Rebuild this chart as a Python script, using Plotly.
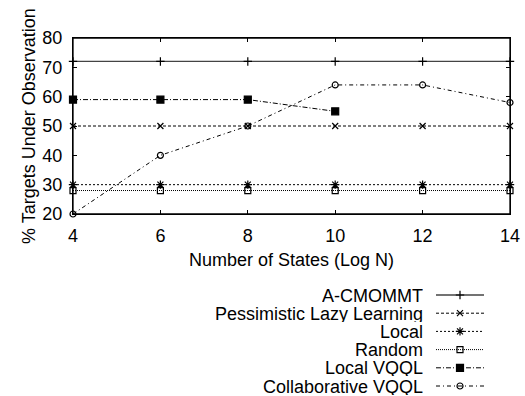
import plotly.graph_objects as go

# Number of states (log N) on the x axis
log_states = [4, 6, 8, 10, 12, 14]

# % of targets under observation for each method
a_cmommt = [72, 72, 72, 72, 72, 72]
pessimistic_lazy = [50, 50, 50, 50, 50, 50]
local = [30, 30, 30, 30, 30, 30]
random_policy = [28, 28, 28, 28, 28, 28]
local_vqql_states = [4, 6, 8, 10]
local_vqql = [59, 59, 59, 55]
collaborative_vqql = [20, 40, 50, 64, 64, 58]

x_ticks = [4, 6, 8, 10, 12, 14]
y_ticks = [20, 30, 40, 50, 60, 70, 80]

FONT = "Liberation Sans, Arial, Helvetica, sans-serif"
FS = 18
W, H = 525, 396
M_L, M_R, M_T = 73, 15, 38
PLOT_BOTTOM = 214  # pixel row of the x axis
plot_w = W - M_L - M_R

series = [
    dict(name="A-CMOMMT", x=log_states, y=a_cmommt, dash="solid",
         symbol="cross-thin", size=6, lw=1.3, color="#444"),
    dict(name="Pessimistic Lazy Learning", x=log_states, y=pessimistic_lazy,
         dash="3px,2px", symbol="x-thin", size=6, lw=1, color="black"),
    dict(name="Local", x=log_states, y=local, dash="2px,2px",
         symbol="asterisk", size=7, lw=1, color="black"),
    dict(name="Random", x=log_states, y=random_policy, dash="1px,1px",
         symbol="square-open", size=6, lw=1, color="black"),
    dict(name="Local VQQL", x=local_vqql_states, y=local_vqql,
         dash="5px,2px,1px,2px", symbol="square", size=7, lw=1, color="black"),
    dict(name="Collaborative VQQL", x=log_states, y=collaborative_vqql,
         dash="4px,3px,1px,3px", symbol="circle-open", size=6, lw=1,
         color="black"),
]

fig = go.Figure()

for s in series:
    fig.add_trace(go.Scatter(
        x=s["x"], y=s["y"], mode="lines+markers", name=s["name"],
        line=dict(color=s["color"], width=s["lw"], dash=s["dash"]),
        marker=dict(symbol=s["symbol"], size=s["size"], color="black",
                    line=dict(color="black", width=1.2)),
        cliponaxis=False, showlegend=False, xaxis="x", yaxis="y",
    ))

# Hand-built key below the plot: right-aligned labels with a line sample
# (marker in the middle) to their right. The key axes use pixel units.
key_top = 295
key_step = 18.2
text_right = 425
sample_x0, sample_x1 = 436, 484
annotations = []
for i, s in enumerate(series):
    ky = key_top + i * key_step
    fig.add_trace(go.Scatter(
        x=[sample_x0, sample_x1], y=[ky, ky], mode="lines",
        line=dict(color=s["color"], width=s["lw"], dash=s["dash"]),
        showlegend=False, hoverinfo="skip", xaxis="x2", yaxis="y2",
    ))
    fig.add_trace(go.Scatter(
        x=[(sample_x0 + sample_x1) / 2], y=[ky], mode="markers",
        marker=dict(symbol=s["symbol"], size=s["size"], color="black",
                    line=dict(color="black", width=1.2)),
        showlegend=False, hoverinfo="skip", xaxis="x2", yaxis="y2",
    ))
    annotations.append(dict(
        x=text_right, y=ky, xref="x2", yref="y2", text=s["name"],
        showarrow=False, xanchor="right", yanchor="middle",
        height=17, valign="middle",
        font=dict(family=FONT, size=FS, color="black"),
    ))

# Vertical y-axis title, centred on the plot height
annotations.append(dict(
    text="% Targets Under Observation", textangle=-90,
    xref="paper", x=(29 - M_L) / plot_w, xanchor="center",
    yref="y domain", y=0.5, yanchor="middle", showarrow=False,
    font=dict(family=FONT, size=18, color="black"),
))

plot_h = H - M_T
main_bottom = (H - PLOT_BOTTOM) / plot_h

axis_common = dict(
    showgrid=False, zeroline=False, showline=True, linecolor="black",
    linewidth=1.3, mirror="ticks", ticks="inside", ticklen=4,
    tickcolor="black", tickwidth=1, automargin=False,
    tickfont=dict(family=FONT, size=FS, color="black"),
)

fig.update_layout(
    width=W, height=H, autosize=False,
    margin=dict(l=M_L, r=M_R, t=M_T, b=0, pad=0),
    paper_bgcolor="white", plot_bgcolor="white",
    xaxis=dict(
        range=[4, 14], tickvals=x_ticks, domain=[0, 1], anchor="y",
        ticklabelstandoff=5,
        title=dict(text="Number of States (Log N)", standoff=8,
                   font=dict(family=FONT, size=FS, color="black")),
        **axis_common,
    ),
    yaxis=dict(
        range=[20, 80], tickvals=y_ticks, domain=[main_bottom, 1], anchor="x",
        ticklabelstandoff=6,
        **axis_common,
    ),
    xaxis2=dict(range=[M_L, W - M_R], domain=[0, 1], anchor="y2",
                visible=False, fixedrange=True),
    yaxis2=dict(range=[H, PLOT_BOTTOM], domain=[0, main_bottom], anchor="x2",
                visible=False, fixedrange=True),
    shapes=[dict(type="rect", xref="x domain", yref="y domain",
                 x0=0, x1=1, y0=0, y1=1,
                 line=dict(color="black", width=1.3), layer="above")],
    annotations=annotations,
    showlegend=False,
)

fig.write_html("out.html")
